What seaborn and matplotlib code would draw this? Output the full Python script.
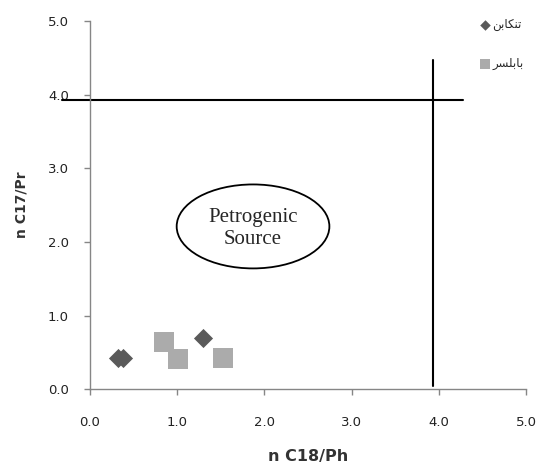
import numpy as np
import pandas as pd
import matplotlib
matplotlib.use('Agg')
import matplotlib.pyplot as plt
from matplotlib.patches import Ellipse
import seaborn as sns

# data
sites = ['تنکابن', 'تنکابن', 'تنکابن', 'بابلسر', 'بابلسر', 'بابلسر']
c18_ph = [0.32, 0.38, 1.30, 0.85, 1.01, 1.53]
c17_pr = [0.43, 0.42, 0.69, 0.64, 0.41, 0.43]
site_order = ['تنکابن', 'بابلسر']
site_colors = ['#5a5a5a', '#ababab']
x_ticks = [0, 1, 2, 3, 4, 5]
y_ticks = [0, 1, 2, 3, 4, 5]
h_line_y = 3.93
v_line_x = 3.93

# matplotlib does no arabic shaping, so pick the joined forms by hand
# isolated, final, initial, medial
FORMS = {
    'ت': '\uFE95\uFE96\uFE97\uFE98',
    'ن': '\uFEE5\uFEE6\uFEE7\uFEE8',
    'ک': '\uFB8E\uFB8F\uFB90\uFB91',
    'ا': '\uFE8D\uFE8E',
    'ب': '\uFE8F\uFE90\uFE91\uFE92',
    'ل': '\uFEDD\uFEDE\uFEDF\uFEE0',
    'س': '\uFEB1\uFEB2\uFEB3\uFEB4',
    'ر': '\uFEAD\uFEAE',
}
RIGHT_ONLY = set('ادذرزو')


def shape(word):
    out = []
    n = len(word)
    for i, ch in enumerate(word):
        prev_j = i > 0 and word[i - 1] not in RIGHT_ONLY
        next_j = i < n - 1 and ch not in RIGHT_ONLY
        f = FORMS[ch]
        if prev_j and next_j:
            out.append(f[3])
        elif prev_j:
            out.append(f[1])
        elif next_j:
            out.append(f[2])
        else:
            out.append(f[0])
    return ''.join(reversed(out))


df = pd.DataFrame({'site': sites, 'x': c18_ph, 'y': c17_pr})

sns.set_style('white')
plt.rcParams['font.family'] = ['DejaVu Sans']
plt.rcParams.update({
    'xtick.bottom': True, 'ytick.left': True,
    'xtick.direction': 'out', 'ytick.direction': 'out',
    'xtick.major.size': 4, 'ytick.major.size': 4,
    'xtick.major.width': 1, 'ytick.major.width': 1,
    'xtick.major.pad': 15, 'ytick.major.pad': 11,
    'xtick.color': '#868686', 'ytick.color': '#868686',
    'xtick.labelcolor': '#222222', 'ytick.labelcolor': '#222222',
    'xtick.labelsize': 9.5, 'ytick.labelsize': 9.5,
})

fig = plt.figure(figsize=(5.38, 4.65), dpi=100)
ax = fig.add_axes([0.167, 0.163, 0.811, 0.792])

sns.scatterplot(data=df[df.site == site_order[0]], x='x', y='y', marker='D',
                color=site_colors[0], s=95, linewidth=0, ax=ax,
                label=site_order[0], zorder=3)
sns.scatterplot(data=df[df.site == site_order[1]], x='x', y='y', marker='s',
                color=site_colors[1], s=190, linewidth=0, ax=ax,
                label=site_order[1], zorder=3)

ax.set_xlim(0, 5)
ax.set_ylim(0, 5)
ax.set_xticks(x_ticks)
ax.set_yticks(y_ticks)
ax.set_xticklabels(['%.1f' % v for v in x_ticks])
ax.set_yticklabels(['%.1f' % v for v in y_ticks])

for s in ['top', 'right']:
    ax.spines[s].set_visible(False)
for s in ['left', 'bottom']:
    ax.spines[s].set_color('#868686')
    ax.spines[s].set_linewidth(1)

ax.set_xlabel('n C18/Ph', fontsize=11.5, fontweight='bold', color='#333333', labelpad=15)
ax.set_ylabel('n C17/Pr', fontsize=10, fontweight='bold', color='#333333', labelpad=14)

# boundary lines
ax.plot([-0.32, 4.28], [h_line_y, h_line_y], color='black', lw=1.5, clip_on=False, zorder=2)
ax.plot([v_line_x, v_line_x], [0.05, 4.47], color='black', lw=1.5, clip_on=False, zorder=2)

# petrogenic source ellipse
ax.add_patch(Ellipse((1.87, 2.21), 1.75, 1.14, fill=False, edgecolor='black', lw=1.3))
ax.text(1.87, 2.18, 'Petrogenic\nSource', ha='center', va='center',
        fontsize=15, family='Liberation Serif', linespacing=1.25)

handles, labels = ax.get_legend_handles_labels()
leg = ax.legend(handles, [shape(l) for l in labels], loc='upper left',
                bbox_to_anchor=(0.885, 1.02), frameon=False, fontsize=8.5,
                markerscale=0.55, handletextpad=0.2, labelspacing=2.2,
                handlelength=0.8, borderaxespad=0)

fig.savefig('out.png', dpi=100)
